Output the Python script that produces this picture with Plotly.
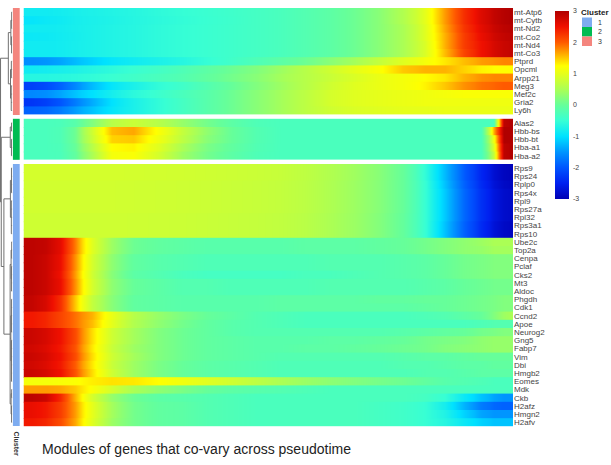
import plotly.graph_objects as go

W, H = 611, 465

# ---------------- data ----------------
pseudotime_edges = [0, 3, 6, 9, 12, 16, 20, 25, 30, 35, 40, 45, 50, 55, 60,
                    65, 70, 75, 80, 84, 88, 92, 95, 97, 99, 100]

genes_cluster3 = ["mt-Atp6", "mt-Cytb", "mt-Nd2", "mt-Co2", "mt-Nd4", "mt-Co3",
                  "Ptprd", "Opcml", "Arpp21", "Meg3", "Mef2c", "Gria2", "Ly6h"]
expr_cluster3 = [
    [-0.85, -0.85, -0.82, -0.78, -0.74, -0.7, -0.65, -0.58, -0.52, -0.47, -0.42, -0.36, -0.3, -0.2, -0.1, 0.05, 0.25, 0.55, 1.0, 1.7, 2.3, 2.65, 2.85, 2.95, 3.0],
    [-0.95, -0.9, -0.86, -0.8, -0.76, -0.72, -0.66, -0.6, -0.54, -0.48, -0.43, -0.36, -0.3, -0.2, -0.1, 0.05, 0.25, 0.55, 1.0, 1.7, 2.3, 2.65, 2.85, 2.95, 3.0],
    [-0.85, -0.85, -0.83, -0.79, -0.75, -0.7, -0.65, -0.58, -0.52, -0.47, -0.42, -0.36, -0.3, -0.2, -0.1, 0.05, 0.25, 0.5, 0.95, 1.65, 2.25, 2.6, 2.8, 2.9, 2.95],
    [-0.9, -0.88, -0.84, -0.8, -0.75, -0.7, -0.65, -0.58, -0.52, -0.47, -0.42, -0.36, -0.3, -0.2, -0.1, 0.05, 0.25, 0.5, 0.95, 1.6, 2.2, 2.55, 2.75, 2.85, 2.9],
    [-0.85, -0.85, -0.83, -0.79, -0.75, -0.7, -0.65, -0.58, -0.52, -0.47, -0.42, -0.36, -0.3, -0.2, -0.1, 0.05, 0.25, 0.5, 0.9, 1.6, 2.2, 2.5, 2.7, 2.8, 2.85],
    [-0.85, -0.85, -0.83, -0.79, -0.75, -0.7, -0.65, -0.58, -0.52, -0.47, -0.42, -0.36, -0.3, -0.2, -0.1, 0.05, 0.25, 0.5, 0.9, 1.55, 2.15, 2.5, 2.7, 2.8, 2.85],
    [-1.55, -1.5, -1.4, -1.25, -1.1, -0.95, -0.85, -0.75, -0.65, -0.52, -0.4, -0.25, -0.1, 0.05, 0.25, 0.45, 0.7, 0.95, 1.15, 1.35, 1.55, 1.7, 1.75, 1.8, 1.8],
    [-0.85, -0.82, -0.78, -0.73, -0.66, -0.58, -0.48, -0.38, -0.25, -0.1, 0.05, 0.2, 0.4, 0.6, 0.8, 1.0, 1.2, 1.5, 1.6, 1.6, 1.45, 1.3, 1.25, 1.25, 1.25],
    [-0.65, -0.65, -0.63, -0.6, -0.55, -0.48, -0.4, -0.3, -0.2, -0.05, 0.1, 0.25, 0.45, 0.6, 0.75, 0.9, 1.05, 1.15, 1.25, 1.35, 1.6, 1.75, 1.8, 1.8, 1.8],
    [-2.2, -2.1, -1.9, -1.6, -1.25, -0.95, -0.75, -0.55, -0.4, -0.2, 0.0, 0.2, 0.4, 0.6, 0.8, 0.95, 1.05, 1.15, 1.3, 1.5, 1.75, 1.9, 1.95, 2.0, 2.0],
    [-1.6, -1.55, -1.4, -1.2, -1.0, -0.8, -0.6, -0.45, -0.3, -0.15, 0.05, 0.25, 0.45, 0.65, 0.85, 0.95, 1.0, 1.05, 1.1, 1.15, 1.2, 1.2, 1.2, 1.2, 1.2],
    [-2.3, -2.2, -2.0, -1.7, -1.35, -1.0, -0.75, -0.55, -0.35, -0.15, 0.05, 0.25, 0.45, 0.65, 0.85, 0.95, 1.0, 1.05, 1.1, 1.1, 1.1, 1.1, 1.1, 1.1, 1.1],
    [-1.9, -1.85, -1.7, -1.45, -1.2, -0.95, -0.75, -0.55, -0.35, -0.15, 0.05, 0.25, 0.45, 0.65, 0.8, 0.9, 0.95, 1.0, 1.0, 1.05, 1.05, 1.05, 1.05, 1.05, 1.05],
]

genes_cluster2 = ["Alas2", "Hbb-bs", "Hbb-bt", "Hba-a1", "Hba-a2"]
expr_cluster2 = [
    [-0.3, -0.3, -0.28, -0.15, 0.2, 0.6, 0.75, 0.6, 0.35, 0.1, -0.1, -0.25, -0.3, -0.3, -0.3, -0.3, -0.3, -0.3, -0.3, -0.3, -0.3, -0.3, -0.3, 2.9, 3.0],
    [-0.3, -0.3, -0.25, 0.05, 0.8, 1.55, 1.65, 1.2, 0.7, 0.3, 0.0, -0.2, -0.3, -0.3, -0.3, -0.3, -0.3, -0.3, -0.3, -0.3, -0.3, -0.3, 1.6, 3.0, 3.0],
    [-0.3, -0.3, -0.25, 0.05, 0.75, 1.45, 1.5, 1.1, 0.65, 0.25, 0.0, -0.2, -0.3, -0.3, -0.3, -0.3, -0.3, -0.3, -0.3, -0.3, -0.3, -0.3, 1.1, 3.0, 3.0],
    [-0.3, -0.3, -0.27, 0.0, 0.6, 1.25, 1.3, 0.95, 0.5, 0.15, -0.05, -0.22, -0.3, -0.3, -0.3, -0.3, -0.3, -0.3, -0.3, -0.3, -0.3, -0.3, 0.9, 2.9, 3.0],
    [-0.3, -0.3, -0.28, -0.05, 0.5, 1.15, 1.2, 0.85, 0.4, 0.1, -0.1, -0.25, -0.3, -0.3, -0.3, -0.3, -0.3, -0.3, -0.3, -0.3, -0.3, -0.3, 0.7, 2.9, 3.0],
]

genes_cluster1 = ["Rps9", "Rps24", "Rplp0", "Rps4x", "Rpl9", "Rps27a", "Rpl32", "Rps3a1", "Rps10",
                  "Ube2c", "Top2a", "Cenpa", "Pclaf", "Cks2", "Mt3", "Aldoc", "Phgdh", "Cdk1",
                  "Ccnd2", "Apoe", "Neurog2", "Gng5", "Fabp7", "Vim", "Dbi", "Hmgb2", "Eomes",
                  "Mdk", "Ckb", "H2afz", "Hmgn2", "H2afv"]
expr_cluster1 = [
    [0.85, 0.85, 0.85, 0.85, 0.85, 0.85, 0.84, 0.83, 0.82, 0.8, 0.78, 0.76, 0.73, 0.66, 0.55, 0.42, 0.25, 0.0, -0.55, -1.25, -1.95, -2.45, -2.75, -2.9, -2.95],
    [0.85, 0.85, 0.85, 0.85, 0.85, 0.85, 0.84, 0.83, 0.82, 0.8, 0.78, 0.76, 0.73, 0.66, 0.55, 0.42, 0.25, 0.0, -0.55, -1.25, -1.95, -2.45, -2.75, -2.9, -2.95],
    [0.82, 0.82, 0.82, 0.82, 0.82, 0.82, 0.81, 0.8, 0.79, 0.77, 0.75, 0.73, 0.7, 0.64, 0.53, 0.4, 0.24, 0.0, -0.5, -1.2, -1.9, -2.4, -2.7, -2.85, -2.9],
    [0.82, 0.82, 0.82, 0.82, 0.82, 0.82, 0.81, 0.8, 0.79, 0.77, 0.75, 0.73, 0.7, 0.64, 0.53, 0.4, 0.24, 0.0, -0.5, -1.15, -1.85, -2.35, -2.65, -2.8, -2.85],
    [0.82, 0.82, 0.82, 0.82, 0.82, 0.82, 0.81, 0.8, 0.79, 0.77, 0.75, 0.73, 0.7, 0.64, 0.53, 0.4, 0.24, 0.0, -0.5, -1.15, -1.85, -2.35, -2.65, -2.8, -2.85],
    [0.82, 0.82, 0.82, 0.82, 0.82, 0.82, 0.81, 0.8, 0.79, 0.77, 0.75, 0.73, 0.7, 0.64, 0.53, 0.4, 0.24, 0.0, -0.5, -1.15, -1.85, -2.35, -2.65, -2.8, -2.85],
    [0.8, 0.8, 0.8, 0.8, 0.8, 0.8, 0.79, 0.78, 0.77, 0.75, 0.73, 0.71, 0.68, 0.62, 0.51, 0.39, 0.22, -0.02, -0.5, -1.15, -1.85, -2.35, -2.65, -2.8, -2.85],
    [0.8, 0.8, 0.8, 0.8, 0.8, 0.8, 0.79, 0.78, 0.77, 0.75, 0.73, 0.71, 0.68, 0.62, 0.51, 0.39, 0.22, -0.02, -0.5, -1.2, -1.9, -2.4, -2.7, -2.85, -2.9],
    [0.8, 0.8, 0.8, 0.8, 0.8, 0.8, 0.79, 0.78, 0.77, 0.75, 0.73, 0.71, 0.68, 0.62, 0.51, 0.39, 0.22, -0.02, -0.5, -1.2, -1.9, -2.4, -2.7, -2.85, -2.9],
    [2.9, 2.85, 2.6, 1.85, 0.95, 0.4, 0.05, -0.05, -0.1, -0.15, -0.15, -0.15, -0.15, -0.1, -0.1, -0.1, -0.05, 0.0, 0.1, 0.2, 0.3, 0.4, 0.5, 0.5, 0.5],
    [2.9, 2.85, 2.6, 1.85, 0.95, 0.4, 0.05, -0.05, -0.1, -0.15, -0.15, -0.15, -0.15, -0.1, -0.1, -0.1, -0.05, 0.0, 0.1, 0.2, 0.3, 0.35, 0.45, 0.45, 0.45],
    [2.9, 2.8, 2.55, 1.75, 0.85, 0.3, -0.05, -0.15, -0.2, -0.25, -0.25, -0.25, -0.25, -0.25, -0.2, -0.2, -0.2, -0.15, -0.1, 0.0, 0.1, 0.15, 0.2, 0.2, 0.2],
    [2.9, 2.8, 2.55, 1.75, 0.85, 0.3, -0.05, -0.15, -0.2, -0.25, -0.25, -0.25, -0.25, -0.25, -0.2, -0.2, -0.2, -0.15, -0.1, 0.0, 0.1, 0.15, 0.2, 0.2, 0.2],
    [2.9, 2.8, 2.5, 1.7, 0.8, 0.25, -0.1, -0.2, -0.3, -0.35, -0.35, -0.35, -0.35, -0.3, -0.3, -0.25, -0.2, -0.15, -0.1, 0.0, 0.1, 0.15, 0.2, 0.2, 0.2],
    [2.9, 2.8, 2.55, 1.75, 0.85, 0.3, 0.0, -0.1, -0.2, -0.2, -0.25, -0.25, -0.25, -0.25, -0.2, -0.2, -0.2, -0.2, -0.15, -0.1, 0.0, 0.05, 0.1, 0.1, 0.1],
    [2.9, 2.8, 2.55, 1.75, 0.85, 0.3, 0.0, -0.1, -0.2, -0.2, -0.25, -0.25, -0.25, -0.25, -0.2, -0.2, -0.2, -0.2, -0.15, -0.1, 0.0, 0.05, 0.1, 0.1, 0.1],
    [2.85, 2.7, 2.3, 1.5, 0.7, 0.25, -0.05, -0.1, -0.15, -0.15, -0.15, -0.15, -0.1, -0.1, -0.1, -0.1, -0.05, -0.05, 0.0, 0.0, 0.05, 0.1, 0.15, 0.2, 0.2],
    [2.85, 2.7, 2.3, 1.5, 0.7, 0.25, -0.05, -0.1, -0.15, -0.15, -0.15, -0.15, -0.1, -0.1, -0.1, -0.1, -0.1, -0.1, -0.05, 0.0, 0.05, 0.1, 0.15, 0.2, 0.2],
    [2.45, 2.35, 2.15, 1.9, 1.6, 1.05, 0.6, 0.35, 0.15, 0.0, -0.1, -0.2, -0.25, -0.3, -0.3, -0.3, -0.3, -0.3, -0.25, -0.2, -0.1, 0.0, 0.2, 0.4, 0.5],
    [2.45, 2.35, 2.15, 1.9, 1.55, 1.0, 0.55, 0.3, 0.1, -0.05, -0.15, -0.2, -0.25, -0.3, -0.3, -0.3, -0.3, -0.3, -0.3, -0.3, -0.3, -0.25, -0.2, -0.2, -0.2],
    [2.8, 2.7, 2.5, 2.1, 1.4, 0.8, 0.45, 0.2, 0.05, -0.05, -0.15, -0.2, -0.2, -0.2, -0.2, -0.2, -0.2, -0.15, -0.1, -0.05, 0.0, 0.1, 0.15, 0.2, 0.2],
    [2.8, 2.7, 2.5, 2.1, 1.4, 0.8, 0.45, 0.2, 0.05, -0.05, -0.1, -0.15, -0.15, -0.15, -0.1, -0.1, -0.05, 0.0, 0.1, 0.15, 0.2, 0.3, 0.35, 0.35, 0.35],
    [2.75, 2.65, 2.45, 2.05, 1.35, 0.75, 0.4, 0.2, 0.05, -0.05, -0.1, -0.15, -0.15, -0.1, -0.1, -0.05, 0.0, 0.05, 0.1, 0.2, 0.25, 0.3, 0.35, 0.35, 0.35],
    [2.8, 2.7, 2.5, 2.1, 1.4, 0.8, 0.45, 0.2, 0.05, -0.05, -0.1, -0.15, -0.2, -0.2, -0.2, -0.2, -0.2, -0.15, -0.1, -0.1, -0.05, 0.0, 0.0, 0.0, 0.0],
    [2.75, 2.65, 2.45, 2.0, 1.35, 0.75, 0.4, 0.15, 0.0, -0.1, -0.15, -0.2, -0.25, -0.25, -0.25, -0.25, -0.25, -0.2, -0.2, -0.15, -0.1, -0.1, -0.05, -0.05, -0.05],
    [2.8, 2.7, 2.5, 2.05, 1.4, 0.8, 0.4, 0.15, 0.0, -0.1, -0.15, -0.2, -0.25, -0.25, -0.25, -0.25, -0.25, -0.25, -0.2, -0.2, -0.15, -0.1, -0.1, -0.1, -0.1],
    [1.15, 1.15, 1.18, 1.22, 1.32, 1.38, 1.35, 1.25, 1.1, 0.95, 0.8, 0.65, 0.5, 0.38, 0.28, 0.2, 0.12, 0.05, -0.05, -0.15, -0.2, -0.25, -0.3, -0.3, -0.3],
    [1.7, 1.7, 1.65, 1.5, 1.2, 0.85, 0.5, 0.3, 0.15, 0.0, -0.1, -0.15, -0.2, -0.25, -0.3, -0.3, -0.3, -0.3, -0.3, -0.3, -0.3, -0.3, -0.3, -0.3, -0.3],
    [2.9, 2.8, 2.35, 1.6, 0.85, 0.35, 0.05, -0.1, -0.15, -0.2, -0.25, -0.3, -0.3, -0.3, -0.3, -0.3, -0.3, -0.3, -0.35, -0.5, -0.9, -1.2, -1.4, -1.5, -1.5],
    [2.55, 2.45, 2.2, 1.7, 1.0, 0.45, 0.1, -0.05, -0.1, -0.2, -0.25, -0.3, -0.3, -0.3, -0.3, -0.3, -0.35, -0.4, -0.5, -0.8, -1.3, -1.7, -1.85, -1.9, -1.9],
    [2.55, 2.45, 2.2, 1.7, 1.0, 0.45, 0.1, -0.05, -0.1, -0.2, -0.25, -0.3, -0.3, -0.3, -0.3, -0.3, -0.35, -0.4, -0.5, -0.7, -1.1, -1.4, -1.5, -1.5, -1.5],
    [2.45, 2.35, 2.1, 1.65, 0.95, 0.4, 0.1, -0.05, -0.1, -0.2, -0.25, -0.3, -0.3, -0.3, -0.3, -0.3, -0.35, -0.4, -0.5, -0.65, -0.9, -1.1, -1.2, -1.2, -1.2],
]

block_clusters = [3, 2, 1]           # cluster id of each block, top to bottom
legend_clusters = [1, 2, 3]
cluster_colors = {1: "#7EACF0", 2: "#00BC52", 3: "#F4857E"}
color_ticks = [3, 2, 1, 0, -1, -2, -3]

# dendrogram: [merge height, child, child, ...]; leaves are global row indices
dendrogram = [9.8,
              [3.3, [1.2, [0.5, 0, 1, 2], [0.6, 3, 4, 5]],
                    [1.5, [0.8, 6, 7, 8], [0.9, 9, 10, 11, 12]]],
              [9.2,
               [1.7, [0.6, 13, 14], [0.7, 15, 16, 17]],
               [7.0,
                [1.6, [0.7, 18, 19, 20, 21], [0.8, 22, 23, 24, 25, 26]],
                [1.8, [1.0, [0.5, 27, 28, 29], [0.6, 30, 31, 32, 33]],
                      [1.2, [0.6, 34, 35, 36, 37, 38], [0.7, 39, 40, 41, 42, 43, 44]],
                      [1.0, [0.5, 45, 46], [0.6, 47, 48, 49]]]]]]

# ---------------- layout constants ----------------
TOP, ROW_H, GAP = 8.0, 8.2, 4.2
OVERLAP = 0.9
HM_X0, HM_X1 = 23.5, 513.0
ANN_X0, ANN_X1 = 12.7, 20.0
DEN_X1 = 12.3
DEN_MAX = 10.25

colorscale = [
    [0.0, "#0000B4"], [0.083, "#0020F0"], [0.167, "#0055FF"], [0.25, "#0095FF"],
    [0.333, "#00E2FF"], [0.417, "#38FFD4"], [0.5, "#66FF9A"], [0.583, "#ABFF55"],
    [0.667, "#E6FF1A"], [0.708, "#FFFF00"], [0.75, "#FFC800"], [0.792, "#FF9000"],
    [0.833, "#FF5A00"], [0.917, "#F01000"], [1.0, "#B00000"],
]

fig = go.Figure()

blocks = [(genes_cluster3, expr_cluster3), (genes_cluster2, expr_cluster2),
          (genes_cluster1, expr_cluster1)]

tick_vals, tick_text, leaf_y = [], [], []
cursor = TOP
for (genes, expr), cid in zip(blocks, block_clusters):
    edges = []
    n = len(genes)
    for i, (g, vals) in enumerate(zip(genes, expr)):
        y0 = cursor + i * ROW_H
        y1 = y0 + ROW_H
        y1d = y1 + (OVERLAP if i < n - 1 else 0)
        edges.append(y0)
        fig.add_trace(go.Heatmap(
            x=pseudotime_edges, y=[y0, (y0 + y1d) / 2, y1d], z=[vals, vals],
            coloraxis="coloraxis", zsmooth="best", hoverinfo="skip"))
        tick_vals.append((y0 + y1) / 2)
        tick_text.append(g)
        leaf_y.append((y0 + y1) / 2)
    edges.append(cursor + n * ROW_H)
    fig.add_trace(go.Heatmap(
        x=[0, 1], y=edges, z=[[cid] for _ in genes], xaxis="x2",
        zmin=1, zmax=3, showscale=False, hoverinfo="skip",
        colorscale=[[0, cluster_colors[1]], [0.5, cluster_colors[2]], [1, cluster_colors[3]]]))
    cursor += n * ROW_H + GAP

# dendrogram segments
dx, dy = [], []


def walk(node):
    if isinstance(node, int):
        return leaf_y[node], 0.0
    h = node[0]
    kids = [walk(c) for c in node[1:]]
    ys = [k[0] for k in kids]
    for ky, kh in kids:
        dx.extend([kh, h, None])
        dy.extend([ky, ky, None])
    dx.extend([h, h, None])
    dy.extend([min(ys), max(ys), None])
    return (min(ys) + max(ys)) / 2, h


walk(dendrogram)
fig.add_trace(go.Scatter(x=dx, y=dy, mode="lines", xaxis="x3",
                         line=dict(color="#707070", width=1), hoverinfo="skip",
                         showlegend=False))

fig.update_layout(
    width=W, height=H, margin=dict(l=0, r=0, t=0, b=0, autoexpand=False),
    paper_bgcolor="white", plot_bgcolor="white", showlegend=False,
    font=dict(family="Liberation Sans, Arial, sans-serif", color="#333"),
    xaxis=dict(domain=[HM_X0 / W, HM_X1 / W], range=[0, 100], showgrid=False,
               zeroline=False, showticklabels=False, ticks=""),
    xaxis2=dict(domain=[ANN_X0 / W, ANN_X1 / W], range=[0, 1], visible=False),
    xaxis3=dict(domain=[0, DEN_X1 / W], range=[DEN_MAX, 0], visible=False),
    yaxis=dict(domain=[0, 1], range=[H, 0], side="right", showgrid=False,
               zeroline=False, ticks="", tickmode="array", tickvals=tick_vals,
               ticktext=tick_text, tickfont=dict(size=8, color="#444")),
    coloraxis=dict(
        cmin=-3, cmax=3, colorscale=colorscale,
        colorbar=dict(x=555 / W, xanchor="left", y=1 - 105 / H, yanchor="middle",
                      len=188 / H, lenmode="fraction", thickness=14, outlinewidth=0,
                      xpad=0, ypad=0, tickmode="array", tickvals=color_ticks,
                      ticktext=[str(v) for v in color_ticks], ticks="outside",
                      ticklen=3, tickcolor="rgba(0,0,0,0)",
                      tickfont=dict(size=7, color="#444"))),
)

# cluster legend
LEG_X, LEG_Y0, LEG_STEP = 582.0, 17.5, 9.5
fig.add_annotation(x=579 / W, y=1 - 12.5 / H, xref="paper", yref="paper",
                   text="<b>Cluster</b>", showarrow=False, xanchor="left",
                   yanchor="middle", font=dict(size=8, color="#222"))
for k, cid in enumerate(legend_clusters):
    y0 = LEG_Y0 + k * LEG_STEP
    fig.add_shape(type="rect", xref="paper", yref="paper",
                  x0=LEG_X / W, x1=(LEG_X + 10) / W,
                  y0=1 - y0 / H, y1=1 - (y0 + LEG_STEP) / H,
                  fillcolor=cluster_colors[cid], line=dict(width=0))
    fig.add_annotation(x=(LEG_X + 14) / W, y=1 - (y0 + LEG_STEP / 2) / H,
                       xref="paper", yref="paper", text=str(cid), showarrow=False,
                       xanchor="left", yanchor="middle", font=dict(size=7, color="#333"))

fig.add_annotation(x=16.5 / W, y=1 - 443 / H, xref="paper", yref="paper",
                   text="<b>Cluster</b>", textangle=90, showarrow=False,
                   xanchor="center", yanchor="middle", font=dict(size=7, color="#333"))

fig.add_annotation(x=40 / W, y=1 - 449 / H, xref="paper", yref="paper",
                   text="Modules of genes that co-vary across pseudotime",
                   showarrow=False, xanchor="left", yanchor="middle",
                   font=dict(size=14, color="#222"))

fig.write_html("out.html", config={"displayModeBar": False},
               post_script="document.body.style.margin='0';"
                           "document.body.style.overflow='hidden';")
